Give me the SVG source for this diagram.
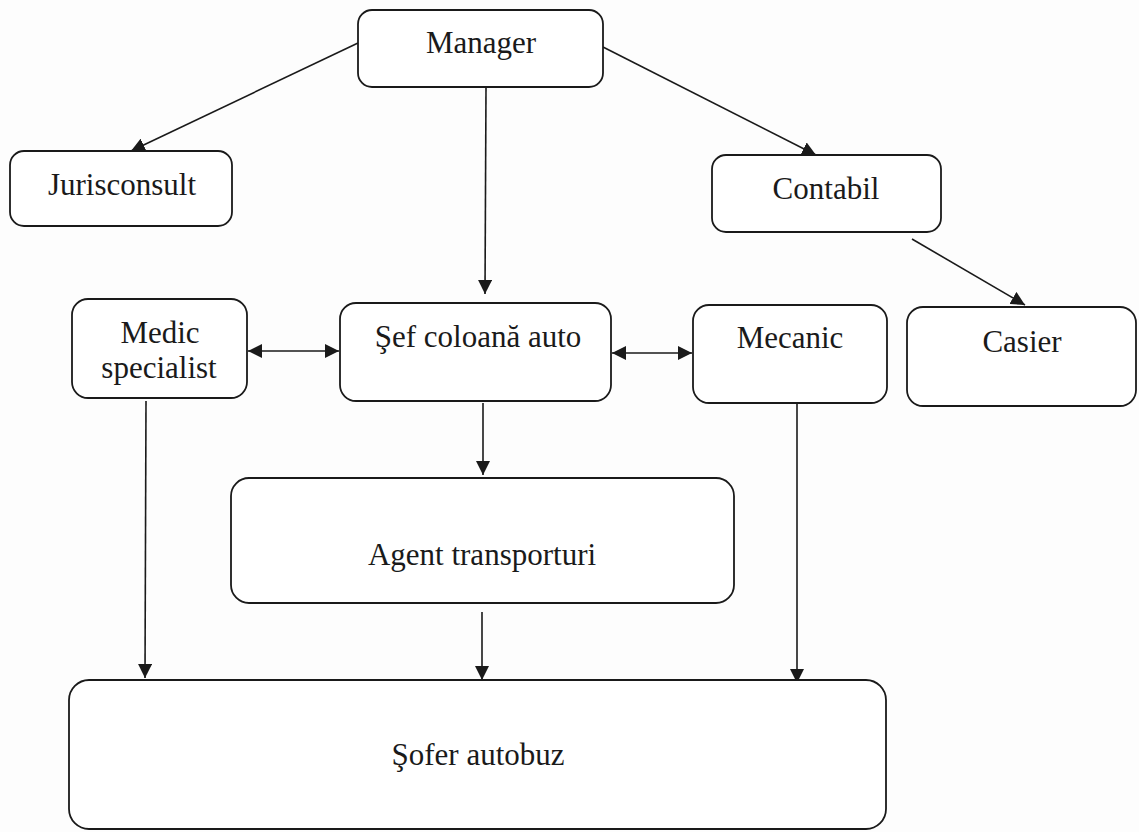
<svg xmlns="http://www.w3.org/2000/svg" width="1139" height="832" viewBox="0 0 1139 832">
<defs>
<style>
.box{fill:#ffffff;stroke:#1a1a1a;stroke-width:1.8}
.lbl{font-family:"Liberation Serif","Times New Roman",serif;font-size:31px;fill:#1a1a1a;text-anchor:middle}
.ln{stroke:#1a1a1a;stroke-width:1.6;fill:none}
</style>
<marker id="ah" viewBox="0 0 14 14" refX="14" refY="7" markerWidth="14" markerHeight="14" markerUnits="userSpaceOnUse" orient="auto-start-reverse">
<path d="M0,0 L14,7 L0,14 Z" fill="#1a1a1a"/>
</marker>
</defs>
<rect x="0" y="0" width="1139" height="832" fill="#fdfdfd"/>
<g id="connectors">
<line class="ln" x1="358" y1="43" x2="131" y2="151" marker-end="url(#ah)"/>
<line class="ln" x1="603" y1="47" x2="816" y2="155" marker-end="url(#ah)"/>
<line class="ln" x1="486" y1="88" x2="485" y2="294" marker-end="url(#ah)"/>
<line class="ln" x1="912" y1="239" x2="1025" y2="305" marker-end="url(#ah)"/>
<line class="ln" x1="248" y1="351" x2="339" y2="351" marker-start="url(#ah)" marker-end="url(#ah)"/>
<line class="ln" x1="612" y1="353" x2="692" y2="353" marker-start="url(#ah)" marker-end="url(#ah)"/>
<line class="ln" x1="483" y1="403" x2="483" y2="475" marker-end="url(#ah)"/>
<line class="ln" x1="146" y1="401" x2="145" y2="678" marker-end="url(#ah)"/>
<line class="ln" x1="482" y1="612" x2="482" y2="680" marker-end="url(#ah)"/>
<line class="ln" x1="797" y1="403" x2="797" y2="683" marker-end="url(#ah)"/>
</g>
<g id="manager">
<rect class="box" x="358" y="10" width="245" height="77" rx="14"/>
<text class="lbl" x="481" y="53">Manager</text>
</g>
<g id="jurisconsult">
<rect class="box" x="10" y="151" width="222" height="75" rx="14"/>
<text class="lbl" x="122" y="195">Jurisconsult</text>
</g>
<g id="contabil">
<rect class="box" x="712" y="155" width="229" height="77" rx="14"/>
<text class="lbl" x="826" y="199">Contabil</text>
</g>
<g id="medic">
<rect class="box" x="72" y="299" width="175" height="99" rx="16"/>
<text class="lbl" x="160" y="343">Medic</text>
<text class="lbl" x="159" y="378">specialist</text>
</g>
<g id="sef">
<rect class="box" x="340" y="303" width="271" height="98" rx="16"/>
<text class="lbl" x="478" y="347">Şef coloană auto</text>
</g>
<g id="mecanic">
<rect class="box" x="693" y="305" width="194" height="98" rx="16"/>
<text class="lbl" x="790" y="348">Mecanic</text>
</g>
<g id="casier">
<rect class="box" x="907" y="307" width="229" height="99" rx="16"/>
<text class="lbl" x="1022" y="352">Casier</text>
</g>
<g id="agent">
<rect class="box" x="231" y="478" width="503" height="125" rx="18"/>
<text class="lbl" x="482" y="565">Agent transporturi</text>
</g>
<g id="sofer">
<rect class="box" x="69" y="680" width="817" height="149" rx="20"/>
<text class="lbl" x="478" y="765">Şofer autobuz</text>
</g>
</svg>
